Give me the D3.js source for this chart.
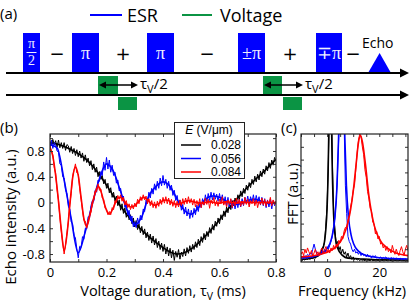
<!DOCTYPE html>
<html>
<head>
<meta charset="utf-8">
<script src="https://cdn.jsdelivr.net/npm/d3@7"></script>
<style>
  body { margin: 0; background: #fff; }
  svg { display: block; }
</style>
</head>
<body>
<div id="chart"></div>
<script>
// ---------- panel (a): pulse sequence (schematic time units 0..100) ----------
const pulseLabels = ["π/2", "π", "π", "±π", "∓π"];
const pulseStart = [4.25, 16.5, 35.25, 58, 77.5];
const pulseEnd = [8.5, 23.25, 42, 64.75, 84];
const signLabels = ["−", "+", "−", "+", "−"];
const signTimes = [12.75, 29.25, 50.25, 71, 86.75];
const echoTimes = [90.5, 93.4, 96.25]; // start, apex, end
const voltStart = [23, 28, 64.25, 69.25];
const voltEnd = [28, 32.75, 69, 74];
const voltSign = [1, -1, 1, -1];

// ---------- panel (b): echo intensity vs voltage duration ----------
const tauStep = 0.005; // ms between samples
const echoBlack = [
  0.95, 0.88, 0.98, 0.90, 0.96, 0.86, 0.97, 0.85, 0.93, 0.84,
  0.93, 0.81, 0.90, 0.88, 0.78, 0.87, 0.76, 0.84, 0.73, 0.82,
  0.71, 0.80, 0.69, 0.77, 0.64, 0.74, 0.62, 0.69, 0.57, 0.65,
  0.51, 0.60, 0.47, 0.55, 0.40, 0.48, 0.36, 0.42, 0.29, 0.36,
  0.22, 0.30, 0.15, 0.23, 0.08, 0.16, 0.02, 0.10, -0.05, 0.04,
  -0.12, -0.02, -0.17, -0.08, -0.23, -0.14, -0.27, -0.19, -0.33, -0.24,
  -0.38, -0.28, -0.42, -0.33, -0.47, -0.37, -0.50, -0.41, -0.55, -0.46,
  -0.59, -0.49, -0.63, -0.52, -0.66, -0.56, -0.70, -0.60, -0.73, -0.63,
  -0.76, -0.65, -0.80, -0.69, -0.83, -0.71, -0.86, -0.74, -0.90, -0.76,
  -0.85, -0.73, -0.88, -0.77, -0.84, -0.72, -0.83, -0.70, -0.79, -0.67,
  -0.77, -0.65, -0.73, -0.61, -0.70, -0.57, -0.67, -0.53, -0.62, -0.48,
  -0.58, -0.45, -0.53, -0.39, -0.48, -0.34, -0.43, -0.29, -0.37, -0.24,
  -0.33, -0.19, -0.27, -0.13, -0.22, -0.07, -0.16, -0.02, -0.11, 0.03,
  -0.05, 0.07, 0.00, 0.12, 0.04, 0.18, 0.09, 0.22, 0.14, 0.27,
  0.19, 0.31, 0.23, 0.36, 0.28, 0.41, 0.32, 0.44, 0.35, 0.49,
  0.40, 0.52, 0.44, 0.57, 0.49, 0.62, 0.53, 0.66, 0.58, 0.70,
  0.64
];
const echoBlue = [
  0.86, 0.97, 0.84, 0.93, 0.89, 0.80, 0.78, 0.60, 0.58, 0.40,
  0.38, 0.19, 0.14, -0.06, -0.10, -0.30, -0.33, -0.51, -0.55, -0.72,
  -0.86, -0.68, -0.70, -0.53, -0.57, -0.40, -0.41, -0.22, -0.24, -0.05,
  0.03, 0.02, 0.19, 0.16, 0.35, 0.33, 0.48, 0.42, 0.63, 0.50,
  0.70, 0.52, 0.66, 0.47, 0.58, 0.42, 0.47, 0.30, 0.35, 0.18,
  0.22, 0.05, 0.10, -0.07, -0.02, -0.19, -0.12, -0.28, -0.21, -0.38,
  -0.30, -0.39, -0.24, -0.33, -0.20, -0.27, -0.10, -0.14, 0.04, -0.01,
  0.16, 0.07, 0.22, 0.13, 0.29, 0.19, 0.33, 0.22, 0.38, 0.26,
  0.42, 0.27, 0.36, 0.22, 0.33, 0.19, 0.27, 0.11, 0.19, 0.03,
  0.11, -0.04, 0.04, -0.12, -0.03, -0.18, -0.07, -0.21, -0.10, -0.25,
  -0.12, -0.23, -0.09, -0.19, -0.04, -0.14, 0.01, -0.08, 0.06, -0.04,
  0.12, 0.00, 0.14, 0.03, 0.16, 0.04, 0.15, 0.05, 0.13, 0.02,
  0.14, 0.01, 0.12, -0.02, 0.09, -0.05, 0.08, -0.07, 0.05, -0.09,
  0.03, -0.10, 0.02, -0.08, 0.05, -0.07, 0.06, -0.05, 0.08, -0.02,
  0.10, -0.03, 0.09, 0.00, 0.12, -0.02, 0.11, 0.01, 0.09, -0.04,
  0.08, -0.05, 0.06, -0.08, 0.04, -0.07, 0.05, -0.10, 0.03, -0.05,
  0.02
];
const echoRed = [
  0.88, 0.80, 0.74, 0.54, 0.45, 0.20, 0.04, -0.23, -0.45, -0.62,
  -0.80, -0.66, -0.47, -0.30, -0.03, 0.14, 0.40, 0.50, 0.60, 0.46,
  0.44, 0.22, 0.05, -0.12, -0.28, -0.29, -0.40, -0.27, -0.20, -0.15,
  0.02, 0.04, 0.18, 0.17, 0.29, 0.19, 0.21, 0.07, 0.05, -0.09,
  -0.10, -0.19, -0.14, -0.19, -0.08, -0.11, 0.03, 0.00, 0.11, 0.05,
  0.12, 0.02, 0.08, -0.04, 0.03, -0.08, -0.02, -0.11, -0.03, -0.10,
  -0.01, -0.07, 0.05, -0.02, 0.09, 0.03, 0.12, 0.04, 0.10, -0.02,
  0.06, -0.05, 0.03, -0.08, 0.01, -0.09, 0.02, -0.06, 0.05, -0.03,
  0.08, -0.01, 0.09, -0.02, 0.07, -0.04, 0.05, -0.06, 0.03, -0.08,
  0.02, -0.07, 0.04, -0.05, 0.06, -0.03, 0.07, -0.02, 0.09, -0.01,
  0.06, -0.04, 0.05, -0.07, 0.03, -0.05, 0.06, -0.08, 0.02, -0.04,
  0.07, -0.03, 0.05, -0.09, 0.04, -0.02, 0.08, -0.05, 0.03, -0.06,
  0.05, -0.02, 0.09, -0.04, 0.02, -0.07, 0.04, -0.03, 0.06, -0.08,
  0.03, -0.05, 0.07, -0.02, 0.05, -0.06, 0.02, -0.04, 0.08, -0.03,
  0.05, -0.07, 0.03, -0.02, 0.06, -0.05, 0.04, -0.08, 0.02, -0.03,
  0.07, -0.04, 0.05, -0.06, 0.03, -0.02, 0.08, -0.05, 0.04, -0.03,
  0.02
];

// smooth fits drawn over the data
const fitStepBlackBlue = 0.025;
const fitBlack = [
  0.93, 0.91, 0.87, 0.82, 0.76, 0.68, 0.57, 0.43, 0.27, 0.10, -0.06,
  -0.20, -0.32, -0.43, -0.53, -0.62, -0.70, -0.77, -0.80, -0.78, -0.72,
  -0.63, -0.52, -0.40, -0.27, -0.13, 0.00, 0.12, 0.24, 0.35, 0.45, 0.56, 0.67
];
const fitBlue = [
  0.90, 0.85, 0.35, -0.25, -0.78, -0.45, -0.02, 0.37, 0.60, 0.48, 0.17,
  -0.14, -0.35, -0.22, 0.10, 0.25, 0.32, 0.25, 0.05, -0.12, -0.18,
  -0.08, 0.05, 0.10, 0.08, 0.02, -0.03, -0.02, 0.03, 0.05, 0.02, -0.01, 0.00
];
const fitStepRed = 0.01;
const fitRed = [
  0.85, 0.72, 0.42, 0.02, -0.42, -0.75, -0.50, -0.05, 0.38, 0.55,
  0.42, 0.08, -0.25, -0.37, -0.22, -0.02, 0.15, 0.25, 0.18, 0.02,
  -0.12, -0.18, -0.12, -0.02, 0.07, 0.08, 0.04, -0.02, -0.06, -0.07,
  -0.05, 0.00, 0.05, 0.08, 0.06, 0.02, -0.02, -0.04, -0.03, 0.00,
  0.03, 0.04, 0.03, 0.00, -0.02, -0.03, -0.02, 0.00, 0.02, 0.03,
  0.02, 0.01, 0.00, -0.01, -0.01, 0.00, 0.01, 0.01, 0.00, -0.01,
  -0.01, 0.00, 0.01, 0.01, 0.00, 0.00, -0.01, 0.00, 0.01, 0.00,
  0.00, 0.00, 0.00, 0.00, 0.00, 0.00, 0.00, 0.00, 0.00, 0.00,
  0.00
];
const fieldLabels = ["0.028", "0.056", "0.084"];

// ---------- panel (c): FFT ----------
const fftStart = -10, fftStep = 0.5; // kHz
const fftBlack = [
  0.02, 0.01, 0.02, 0.015, 0.025, 0.02, 0.03, 0.02, 0.035, 0.025,
  0.04, 0.03, 0.05, 0.04, 0.07, 0.06, 0.10, 0.12, 0.15, 0.28,
  0.45, 0.80, 1.30, 1.50, 0.80, 0.40, 0.25, 0.14, 0.16, 0.09,
  0.12, 0.07, 0.10, 0.06, 0.08, 0.04, 0.07, 0.03, 0.05, 0.02,
  0.04, 0.02, 0.03, 0.015, 0.02, 0.01, 0.02, 0.01, 0.015, 0.01,
  0.02, 0.01, 0.015, 0.01, 0.02, 0.01, 0.015, 0.01, 0.01, 0.015,
  0.01, 0.01, 0.015, 0.01, 0.01, 0.015, 0.01, 0.01, 0.015, 0.01,
  0.01, 0.01, 0.015, 0.01, 0.01, 0.01, 0.015, 0.01, 0.01, 0.01,
  0.01, 0.01, 0.01
];
const fftBlue = [
  0.03, 0.04, 0.03, 0.05, 0.04, 0.06, 0.05, 0.07, 0.06, 0.10,
  0.14, 0.10, 0.07, 0.05, 0.07, 0.06, 0.09, 0.07, 0.10, 0.08,
  0.12, 0.10, 0.13, 0.16, 0.20, 0.27, 0.35, 0.48, 0.70, 1.00,
  1.40, 1.90, 1.70, 1.10, 0.60, 0.38, 0.20, 0.16, 0.14, 0.10,
  0.08, 0.10, 0.07, 0.08, 0.06, 0.08, 0.05, 0.07, 0.05, 0.06,
  0.04, 0.06, 0.04, 0.05, 0.03, 0.05, 0.04, 0.05, 0.03, 0.04,
  0.03, 0.04, 0.025, 0.035, 0.03, 0.04, 0.025, 0.03, 0.02, 0.035,
  0.025, 0.03, 0.02, 0.03, 0.025, 0.02, 0.03, 0.02, 0.025, 0.02,
  0.025, 0.02, 0.02
];
const fftRed = [
  0.06, 0.08, 0.05, 0.10, 0.07, 0.11, 0.08, 0.06, 0.09, 0.05,
  0.07, 0.10, 0.06, 0.08, 0.05, 0.09, 0.11, 0.07, 0.09, 0.12,
  0.08, 0.10, 0.07, 0.11, 0.09, 0.13, 0.10, 0.14, 0.12, 0.17,
  0.15, 0.20, 0.18, 0.24, 0.27, 0.26, 0.33, 0.36, 0.43, 0.48,
  0.56, 0.60, 0.72, 0.85, 0.95, 1.00, 0.98, 0.90, 0.84, 0.72,
  0.66, 0.55, 0.50, 0.42, 0.40, 0.31, 0.30, 0.22, 0.24, 0.18,
  0.20, 0.14, 0.15, 0.11, 0.13, 0.09, 0.12, 0.08, 0.10, 0.07,
  0.13, 0.09, 0.06, 0.10, 0.07, 0.05, 0.09, 0.12, 0.08, 0.05,
  0.10, 0.13, 0.09
];
// Lorentzian fits
const lorFreqBlack = [-10, -6, -4, -2, -1, -0.5, 0, 0.4, 0.8, 1.2, 1.6, 2, 2.5, 3, 4, 6, 8, 12, 20, 31];
const lorBlack = [0.021, 0.03, 0.043, 0.088, 0.16, 0.25, 0.42, 0.71, 1.2, 1.6, 1.2, 0.71, 0.37, 0.22, 0.11, 0.05, 0.03, 0.025, 0.017, 0.016];
const lorFreqBlue = [-10, -6, -3, -1, 1, 2, 3, 3.8, 4.4, 5, 5.6, 6.2, 6.8, 7.4, 8.2, 9.2, 10.2, 12, 15, 20, 25, 31];
const lorBlue = [0.031, 0.04, 0.056, 0.081, 0.14, 0.21, 0.35, 0.6, 0.97, 1.52, 1.9, 1.52, 0.97, 0.6, 0.35, 0.21, 0.14, 0.085, 0.05, 0.033, 0.027, 0.024];
const lorFreqRed = [-10, -6, -2, 1, 4, 6, 8, 9, 10, 11, 12, 12.8, 13.6, 14.6, 16, 18, 20, 23, 26, 31];
const lorRed = [0.04, 0.047, 0.063, 0.086, 0.13, 0.19, 0.31, 0.41, 0.55, 0.74, 0.93, 0.99, 0.93, 0.78, 0.52, 0.29, 0.18, 0.11, 0.075, 0.05];

// ---------- tick values ----------
const bTicksX = [0, 0.2, 0.4, 0.6, 0.8];
const bMinorX = [0, 0.1, 0.2, 0.3, 0.4, 0.5, 0.6, 0.7, 0.8];
const bTicksY = [-0.8, -0.4, 0, 0.4, 0.8];
const bMinorY = [-0.8, -0.6, -0.4, -0.2, 0, 0.2, 0.4, 0.6, 0.8, 1.0];
const cTicksX = [0, 20];
const cMinorX = [-10, -5, 0, 5, 10, 15, 20, 25, 30];
const cMinorY = [0.1, 0.2, 0.3, 0.4, 0.5, 0.6, 0.7, 0.8, 0.9];

// ---------- setup ----------
const font = '"Open Sans", sans-serif';
const BLUE = "#0000ff", RED = "#ff0000", GREEN = "#0b9444";

const svg = d3.select("#chart").append("svg")
    .attr("width", 415)
    .attr("height", 304)
    .style("font-family", font);

function fmtTick(d) {
    return d === 0 ? "0" : String(d);
}

function panelLabel(x, y, t) {
    svg.append("text").attr("x", x).attr("y", y)
       .attr("font-size", 15).text(t);
}

// ================= panel (a) =================
panelLabel(0, 19, "(a)");

const seqX = d3.scaleLinear().domain([0, 100]).range([6, 406]);
const esrBase = 73, voltBase = 95, pulseTop = 33;

// legend
svg.append("line").attr("x1", 90).attr("x2", 122).attr("y1", 15).attr("y2", 15)
   .attr("stroke", BLUE).attr("stroke-width", 2);
svg.append("text").attr("x", 127).attr("y", 22).attr("font-size", 18).text("ESR");
svg.append("line").attr("x1", 182).attr("x2", 212).attr("y1", 15).attr("y2", 15)
   .attr("stroke", GREEN).attr("stroke-width", 2);
svg.append("text").attr("x", 220).attr("y", 22).attr("font-size", 18).text("Voltage");

// ESR pulses
svg.append("g").selectAll("rect")
   .data(pulseLabels)
   .join("rect")
   .attr("x", (d, i) => seqX(pulseStart[i]))
   .attr("width", (d, i) => seqX(pulseEnd[i]) - seqX(pulseStart[i]))
   .attr("y", pulseTop)
   .attr("height", esrBase - pulseTop)
   .attr("fill", BLUE);

// pulse labels (serif, white)
pulseLabels.forEach((lab, i) => {
    const cx = (seqX(pulseStart[i]) + seqX(pulseEnd[i])) / 2;
    const g = svg.append("g").attr("fill", "#f0f0ff")
                 .attr("font-family", '"Liberation Serif", "DejaVu Serif", serif')
                 .attr("text-anchor", "middle");
    if (lab === "π/2") {
        g.append("text").attr("x", cx).attr("y", 48).attr("font-size", 14).text("π");
        g.append("line").attr("x1", cx - 5).attr("x2", cx + 5).attr("y1", 52.5).attr("y2", 52.5)
         .attr("stroke", "#f0f0ff").attr("stroke-width", 1);
        g.append("text").attr("x", cx).attr("y", 65).attr("font-size", 14).text("2");
    } else {
        g.append("text").attr("x", cx).attr("y", 59).attr("font-size", 18).text(lab);
    }
});

// signs between pulses
svg.append("g").selectAll("text")
   .data(signLabels)
   .join("text")
   .attr("x", (d, i) => seqX(signTimes[i]))
   .attr("y", 60)
   .attr("text-anchor", "middle")
   .attr("font-size", 18)
   .attr("font-family", '"DejaVu Sans", sans-serif')
   .text(d => d);

// echo
svg.append("path")
   .attr("d", `M${seqX(echoTimes[0])},${esrBase} L${seqX(echoTimes[1])},53 L${seqX(echoTimes[2])},${esrBase} Z`)
   .attr("fill", BLUE);
svg.append("text").attr("x", 362).attr("y", 48).attr("font-size", 14).text("Echo");

// voltage pulses
svg.append("g").selectAll("rect")
   .data(voltSign)
   .join("rect")
   .attr("x", (d, i) => seqX(voltStart[i]))
   .attr("width", (d, i) => seqX(voltEnd[i]) - seqX(voltStart[i]))
   .attr("y", d => d > 0 ? 76 : voltBase + 2)
   .attr("height", d => d > 0 ? voltBase - 1 - 76 : 13)
   .attr("fill", GREEN);

// time axes with arrowheads
[esrBase, voltBase].forEach(y => {
    svg.append("line").attr("x1", seqX(0)).attr("x2", 402).attr("y1", y).attr("y2", y)
       .attr("stroke", "#000").attr("stroke-width", 2);
    svg.append("path").attr("d", `M409,${y} L400,${y - 4.5} L400,${y + 4.5} Z`).attr("fill", "#000");
});

// tau_V/2 double arrows
[[0, 1], [2, 3]].forEach(([a, b]) => {
    const x1 = seqX(voltStart[a]) + 1, x2 = seqX(voltEnd[b]) + 1, y = 85;
    svg.append("line").attr("x1", x1 + 4).attr("x2", x2 - 4).attr("y1", y).attr("y2", y)
       .attr("stroke", "#000").attr("stroke-width", 1.5);
    svg.append("path").attr("d", `M${x1},${y} L${x1 + 7},${y - 3.5} L${x1 + 7},${y + 3.5} Z`);
    svg.append("path").attr("d", `M${x2},${y} L${x2 - 7},${y - 3.5} L${x2 - 7},${y + 3.5} Z`);
    const t = svg.append("text").attr("x", x2 + 2).attr("y", 89).attr("font-size", 15);
    t.append("tspan").text("τ");
    t.append("tspan").attr("font-size", 11).attr("dy", 4).text("V");
    t.append("tspan").attr("dy", -4).text("/2");
});

// ================= shared axis frame =================
function drawFrame(box, x, y, minorX, labelX, minorY, labelY) {
    const g = svg.append("g");
    const isLab = (list, d) => list.some(v => Math.abs(v - d) < 1e-9);
    g.append("g").attr("transform", `translate(0,${box.bottom})`)
     .call(d3.axisBottom(x).tickValues(minorX).tickSize(-3).tickPadding(5.5)
        .tickFormat(d => isLab(labelX, d) ? fmtTick(d) : ""));
    g.append("g").attr("transform", `translate(0,${box.top})`)
     .call(d3.axisTop(x).tickValues(minorX).tickSize(-3).tickFormat(""));
    g.append("g").attr("transform", `translate(${box.left},0)`)
     .call(d3.axisLeft(y).tickValues(minorY).tickSize(-3).tickPadding(5)
        .tickFormat(d => isLab(labelY, d) ? fmtTick(d) : ""));
    g.append("g").attr("transform", `translate(${box.right},0)`)
     .call(d3.axisRight(y).tickValues(minorY).tickSize(-3).tickFormat(""));
    g.selectAll(".domain").remove();
    // drop empty tick labels
    g.selectAll(".tick text").filter(function () { return this.textContent === ""; }).remove();
    g.selectAll(".tick line").attr("stroke", "#333");
    g.selectAll("g").attr("font-family", font).attr("font-size", 13);
    g.selectAll(".tick text").attr("fill", "#000");
    g.append("rect")
     .attr("x", box.left).attr("y", box.top)
     .attr("width", box.right - box.left).attr("height", box.bottom - box.top)
     .attr("fill", "none").attr("stroke", "#222").attr("stroke-width", 1.2);
}

function clip(id, box) {
    svg.append("clipPath").attr("id", id).append("rect")
       .attr("x", box.left).attr("y", box.top)
       .attr("width", box.right - box.left).attr("height", box.bottom - box.top);
}

// ================= panel (b) =================
panelLabel(0, 133, "(b)");
const boxB = { left: 50, right: 276, top: 134, bottom: 262 };
const bx = d3.scaleLinear().domain([0, 0.8]).range([boxB.left, boxB.right]);
const by = d3.scaleLinear().domain([-0.924, 1.064]).range([boxB.bottom, boxB.top]);
clip("clipB", boxB);

const echoSeries = [
    { data: echoBlack, fit: fitBlack, fitStep: fitStepBlackBlue, color: "#000" },
    { data: echoBlue, fit: fitBlue, fitStep: fitStepBlackBlue, color: BLUE },
    { data: echoRed, fit: fitRed, fitStep: fitStepRed, color: RED }
];

const gB = svg.append("g").attr("clip-path", "url(#clipB)");
echoSeries.forEach(s => {
    const raw = d3.line().x((d, i) => bx(i * tauStep)).y(d => by(d));
    const fit = d3.line().curve(d3.curveMonotoneX).x((d, i) => bx(i * s.fitStep)).y(d => by(d));
    gB.append("path").attr("d", raw(s.data)).attr("fill", "none")
      .attr("stroke", s.color).attr("stroke-width", 1).attr("stroke-linejoin", "round");
    gB.append("path").attr("d", fit(s.fit)).attr("fill", "none")
      .attr("stroke", s.color).attr("stroke-width", 1.6);
});

drawFrame(boxB, bx, by, bMinorX, bTicksX, bMinorY, bTicksY);

// legend (Arial-metric font keeps the tight rows from colliding)
const leg = svg.append("g").attr("font-size", 12).attr("font-family", '"Liberation Sans", Arial, sans-serif');
leg.append("rect").attr("x", 174.5).attr("y", 122.5).attr("width", 70).attr("height", 56)
   .attr("fill", "#fff").attr("stroke", "#222").attr("stroke-width", 1);
const head = leg.append("text").attr("x", 209).attr("y", 134).attr("text-anchor", "middle");
head.append("tspan").attr("font-style", "italic").text("E");
head.append("tspan").text(" (V/μm)");
fieldLabels.forEach((lab, i) => {
    const y = 145 + i * 13.5;
    leg.append("line").attr("x1", 181).attr("x2", 201).attr("y1", y).attr("y2", y)
       .attr("stroke", echoSeries[i].color).attr("stroke-width", 1.5);
    leg.append("text").attr("x", 241).attr("y", y + 4).attr("text-anchor", "end").text(lab);
});

// axis titles
const xt = svg.append("text").attr("x", 163).attr("y", 296).attr("text-anchor", "middle").attr("font-size", 14.5);
xt.append("tspan").text("Voltage duration, τ");
xt.append("tspan").attr("font-size", 10.5).attr("dy", 4).text("V");
xt.append("tspan").attr("dy", -4).text("  (ms)");
svg.append("text").attr("transform", "translate(16,217) rotate(-90)")
   .attr("text-anchor", "middle").attr("font-size", 15).text("Echo intensity (a.u.)");

// ================= panel (c) =================
panelLabel(281, 133, "(c)");
const boxC = { left: 301, right: 408, top: 134, bottom: 262 };
const cx = d3.scaleLinear().domain([-10, 31]).range([boxC.left, boxC.right]);
const cy = d3.scaleLinear().domain([0, 1]).range([boxC.bottom, boxC.top]);
clip("clipC", boxC);

const fftSeries = [
    { data: fftBlack, fx: lorFreqBlack, fy: lorBlack, color: "#000" },
    { data: fftBlue, fx: lorFreqBlue, fy: lorBlue, color: BLUE },
    { data: fftRed, fx: lorFreqRed, fy: lorRed, color: RED }
];
const gC = svg.append("g").attr("clip-path", "url(#clipC)");
fftSeries.forEach(s => {
    const raw = d3.line().x((d, i) => cx(fftStart + i * fftStep)).y(d => cy(d));
    const fit = d3.line().curve(d3.curveMonotoneX).x((d, i) => cx(s.fx[i])).y(d => cy(d));
    gC.append("path").attr("d", raw(s.data)).attr("fill", "none")
      .attr("stroke", s.color).attr("stroke-width", 1);
    gC.append("path").attr("d", fit(s.fy)).attr("fill", "none")
      .attr("stroke", s.color).attr("stroke-width", 1.6);
});

drawFrame(boxC, cx, cy, cMinorX, cTicksX, cMinorY, []);

svg.append("text").attr("x", 352).attr("y", 296).attr("text-anchor", "middle")
   .attr("font-size", 14.5).text("Frequency (kHz)");
svg.append("text").attr("transform", "translate(298,194) rotate(-90)")
   .attr("text-anchor", "middle").attr("font-size", 15).text("FFT (a.u.)");
</script>
</body>
</html>
